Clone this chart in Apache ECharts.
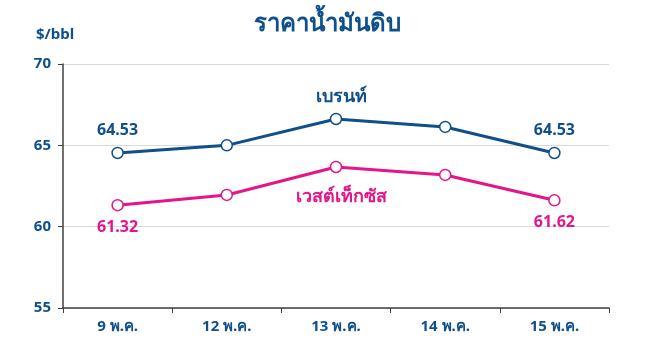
<!DOCTYPE html>
<html>
<head>
<meta charset="utf-8">
<script src="https://cdn.jsdelivr.net/npm/echarts@6/dist/echarts.min.js"></script>
<style>
  html, body { margin: 0; padding: 0; background: #fff; }
  #chart { width: 672px; height: 351px; }
</style>
</head>
<body>
<div id="chart"></div>
<script>
// ข้อมูลราคาน้ำมันดิบ
var categories = ['9 พ.ค.', '12 พ.ค.', '13 พ.ค.', '14 พ.ค.', '15 พ.ค.']
var brentValues = [64.53, 65.0, 66.62, 66.13, 64.53]
var wtiValues = [61.32, 61.95, 63.67, 63.18, 61.62]
var yTicks = [55, 60, 65, 70]

var blue = '#0f4f8c'
var pink = '#e2168a'
var font = 'Noto Sans, sans-serif'

var chart = echarts.init(document.getElementById('chart'))

// ป้ายค่าแรกและค่าสุดท้าย + ชื่อซีรีส์ตรงกลาง
var buildData = function (values, name, color, pos, nameOffset) {
  return values.map(function (v, i) {
    var item = { value: v }
    if (i === 0 || i === values.length - 1) {
      item.label = {
        show: true,
        position: pos,
        distance: 8,
        formatter: v.toFixed(2),
        color: color,
        fontSize: 16,
        fontWeight: 'bold',
        fontFamily: font
      }
    } else if (i === 2) {
      item.label = {
        show: true,
        position: pos,
        offset: nameOffset,
        formatter: name,
        color: color,
        fontSize: 18,
        fontWeight: 'bold',
        fontFamily: font
      }
    }
    return item
  })
}

var option = {
  backgroundColor: '#fff',
  animation: false,
  title: {
    text: 'ราคาน้ำมันดิบ',
    left: 322,
    textAlign: 'center',
    top: 7,
    textStyle: { color: blue, fontSize: 24, fontWeight: 'bold', fontFamily: font }
  },
  grid: { left: 63, right: 63, top: 64, bottom: 43 },
  xAxis: {
    type: 'category',
    data: categories,
    boundaryGap: true,
    axisLine: { lineStyle: { color: '#404040', width: 1.5 } },
    axisTick: { show: true, length: 5, lineStyle: { color: '#404040' } },
    axisLabel: { color: blue, fontSize: 15, fontWeight: 'bold', fontFamily: font, margin: 11 }
  },
  yAxis: {
    type: 'value',
    min: yTicks[0],
    max: yTicks[yTicks.length - 1],
    interval: 5,
    name: '$/bbl',
    nameLocation: 'end',
    nameGap: 22,
    nameTextStyle: { color: blue, fontSize: 15, fontWeight: 'bold', fontFamily: font, align: 'center', padding: [0, 16, 0, 0] },
    axisLine: { show: true, lineStyle: { color: '#404040', width: 1.5 } },
    axisTick: { show: true, length: 5, lineStyle: { color: '#404040' } },
    axisLabel: { color: blue, fontSize: 15, fontWeight: 'bold', fontFamily: font, margin: 12 },
    splitLine: { lineStyle: { color: '#d9d9d9' } }
  },
  series: [
    {
      name: 'เบรนท์',
      type: 'line',
      data: buildData(brentValues, 'เบรนท์', blue, 'top', [5, -2]),
      symbol: 'circle',
      symbolSize: 11,
      lineStyle: { color: blue, width: 3 },
      itemStyle: { color: '#fff', borderColor: blue, borderWidth: 1.5 }
    },
    {
      name: 'เวสต์เท็กซัส',
      type: 'line',
      data: buildData(wtiValues, 'เวสต์เท็กซัส', pink, 'bottom', [5, 10]),
      symbol: 'circle',
      symbolSize: 11,
      lineStyle: { color: pink, width: 3 },
      itemStyle: { color: '#fff', borderColor: pink, borderWidth: 1.5 }
    }
  ]
}

chart.setOption(option)
</script>
</body>
</html>
